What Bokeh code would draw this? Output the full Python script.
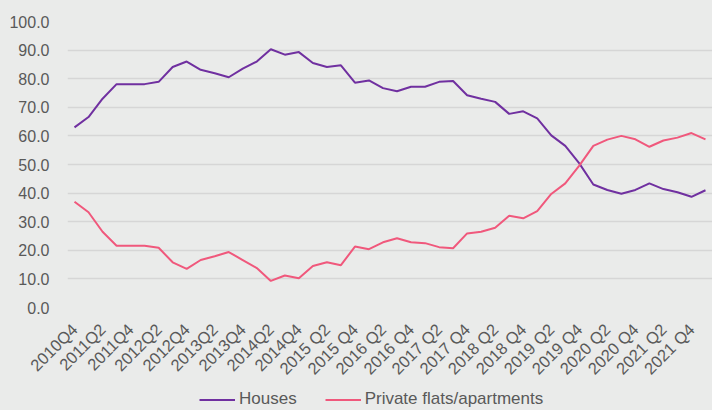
from bokeh.plotting import figure
from bokeh.models import FixedTicker, Legend, LegendItem, Range1d
from bokeh.layouts import column
from bokeh.embed import file_html
from bokeh.resources import INLINE

quarters = []
for y in range(2010, 2023):
    for q in range(1, 5):
        if (y == 2010 and q < 4) or (y == 2022 and q > 1):
            continue
        quarters.append(f"{y}Q{q}" if y < 2015 else f"{y} Q{q}")

houses = [63.0, 66.6, 73.0, 78.1, 78.1, 78.1, 78.9, 84.1, 86.0, 83.1, 81.9, 80.5,
          83.5, 86.0, 90.3, 88.4, 89.3, 85.5, 84.1, 84.7, 78.6, 79.4, 76.7, 75.6,
          77.2, 77.2, 78.9, 79.2, 74.2, 73.0, 71.9, 67.7, 68.6, 66.1, 60.2, 56.5,
          50.4, 43.0, 41.1, 39.8, 41.1, 43.4, 41.4, 40.3, 38.7, 41.0]
flats = [37.0, 33.3, 26.5, 21.6, 21.6, 21.6, 20.9, 15.8, 13.5, 16.6, 17.9, 19.4,
         16.6, 13.8, 9.3, 11.2, 10.2, 14.5, 15.8, 14.8, 21.3, 20.4, 22.8, 24.2,
         22.8, 22.5, 21.1, 20.7, 25.9, 26.5, 27.9, 32.1, 31.2, 33.7, 39.7, 43.4,
         49.6, 56.5, 58.7, 60.0, 58.8, 56.2, 58.4, 59.4, 61.0, 58.8]
y_ticks = [0, 10, 20, 30, 40, 50, 60, 70, 80, 90, 100]
series_names = ["Houses", "Private flats/apartments"]
series_colors = ["#7030A0", "#F0587C"]

x = list(range(len(quarters)))
bg = "#EAEBEA"
txt = "#595959"
font = "Liberation Sans"

p = figure(width=712, height=386, output_backend="svg", toolbar_location=None,
           x_range=Range1d(-0.5, 45.5), y_range=Range1d(0, 100),
           background_fill_color=bg, border_fill_color=bg,
           min_border_left=67, min_border_right=0, min_border_top=21, min_border_bottom=78)
p.outline_line_color = None

p.line(x, houses, line_color=series_colors[0], line_width=2)
p.line(x, flats, line_color=series_colors[1], line_width=2)

p.xaxis.ticker = FixedTicker(ticks=x[::2])
p.xaxis.major_label_overrides = {i: quarters[i] for i in x[::2]}
p.xaxis.major_label_orientation = 0.785398
p.yaxis.ticker = FixedTicker(ticks=y_ticks)
p.yaxis.major_label_overrides = {v: f"{v:.1f}" for v in y_ticks}
for ax in (p.xaxis[0], p.yaxis[0]):
    ax.axis_line_color = None
    ax.major_tick_line_color = None
    ax.minor_tick_line_color = None
    ax.major_label_text_font = font
    ax.major_label_text_color = txt
p.yaxis.major_label_text_font_size = "16px"
p.xaxis.major_label_text_font_size = "16.5px"
p.yaxis.major_label_standoff = 12
p.xaxis.major_label_standoff = 13

p.xgrid.grid_line_color = None
p.ygrid.grid_line_color = "#D6D6D6"
p.ygrid.grid_line_width = 1.5
p.ygrid.ticker = FixedTicker(ticks=y_ticks)

# legend strip (dummy off-range lines only carry the legend swatches)
lg = figure(width=712, height=24, output_backend="svg", toolbar_location=None,
            x_range=Range1d(0, 1), y_range=Range1d(0, 1),
            background_fill_color=bg, border_fill_color=bg,
            min_border=0, min_border_left=0, min_border_right=0,
            min_border_top=0, min_border_bottom=0)
lg.outline_line_color = None
lg.axis.visible = False
lg.grid.visible = False
items = []
for name, col in zip(series_names, series_colors):
    r = lg.line([-5, -4], [-5, -5], line_color=col, line_width=2)
    items.append(LegendItem(label=name, renderers=[r]))
legend = Legend(items=items, orientation="horizontal", location=(132, 1),
                background_fill_alpha=0, border_line_color=None,
                label_text_font=font, label_text_font_size="17px", label_text_color=txt,
                label_height=17, glyph_height=17,
                glyph_width=36, spacing=28, label_standoff=4, padding=0, margin=0)
lg.add_layout(legend, "center")

layout = column(p, lg, spacing=0, styles={"background-color": bg})
open("out.html", "w").write(file_html(layout, INLINE))
